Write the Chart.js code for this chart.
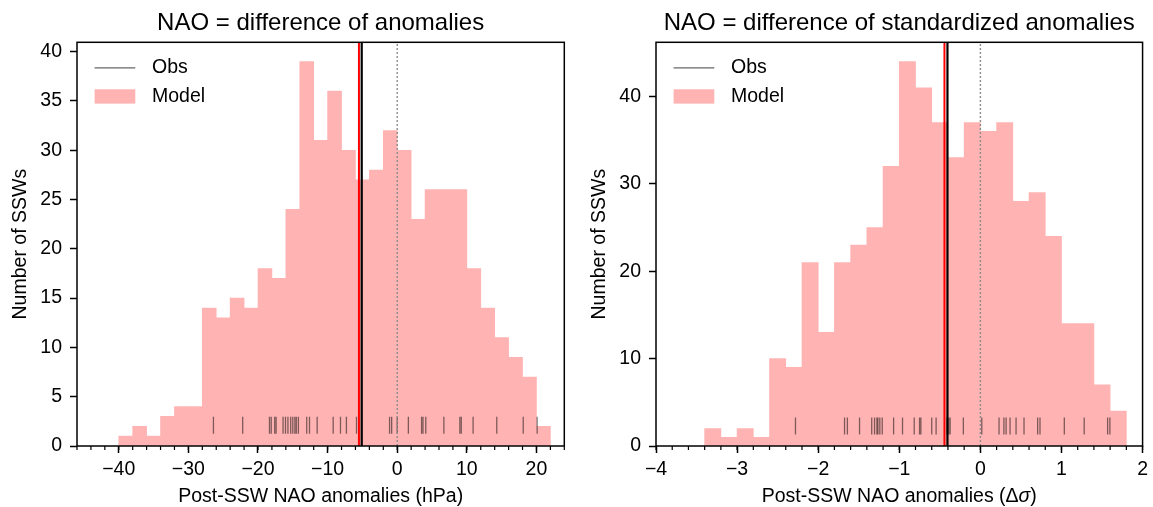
<!DOCTYPE html>
<html>
<head>
<meta charset="utf-8">
<script src="https://cdn.jsdelivr.net/npm/chart.js@4.4.0/dist/chart.umd.min.js"></script>
<style>
  html, body { margin: 0; padding: 0; background: #fff; overflow: hidden; }
  #wrap { position: relative; width: 1153px; height: 507px; }
  canvas { position: absolute; top: 0; }
</style>
</head>
<body>
<div id="wrap">
  <canvas id="leftChart" width="579" height="507" style="left:0px"></canvas>
  <canvas id="rightChart" width="574" height="507" style="left:579px"></canvas>
</div>
<script>
// ---- left panel: NAO = difference of anomalies (hPa) ----
const leftBinEdges = [-40,-38,-36,-34,-32,-30,-28,-26,-24,-22,-20,-18,-16,-14,-12,-10,-8,-6,-4,-2,0,2,4,6,8,10,12,14,16,18,20];
const leftBinWidth = 2;
const leftCounts = [1,2,1,3,4,4,14,13,15,14,18,17,24,39,31,36,30,27,28,32,30,23,26,26,26,18,14,11,9,7,2];
const leftObs = [-26.4,-22.2,-18.35,-18.1,-17.6,-17.4,-16.4,-16.05,-15.7,-15.3,-15.0,-14.7,-14.5,-14.2,-13.0,-12.6,-11.5,-9.2,-8.15,-7.3,-5.85,-1.1,-0.8,0.0,1.6,3.5,3.7,4.1,6.7,9.0,9.2,10.9,14.3,18.1,20.1];
const leftModelMean = -5.5;
const leftObsMean = -5.1;
const leftXTicks = [-40,-30,-20,-10,0,10,20];
const leftYTicks = [0,5,10,15,20,25,30,35,40];

// ---- right panel: NAO = difference of standardized anomalies ----
const rightBinEdges = [-3.4,-3.2,-3.0,-2.8,-2.6,-2.4,-2.2,-2.0,-1.8,-1.6,-1.4,-1.2,-1.0,-0.8,-0.6,-0.4,-0.2,0.0,0.2,0.4,0.6,0.8,1.0,1.2,1.4,1.6];
const rightBinWidth = 0.2;
const rightCounts = [2,1,2,1,10,9,21,13,21,23,25,32,44,41,37,33,37,36,37,28,29,24,14,14,7,4];
const rightObs = [-2.28,-1.675,-1.64,-1.49,-1.34,-1.305,-1.276,-1.264,-1.24,-1.21,-1.07,-0.96,-0.816,-0.75,-0.734,-0.60,-0.546,-0.41,-0.39,-0.373,-0.21,0.017,0.23,0.29,0.317,0.366,0.44,0.538,0.706,0.735,1.035,1.28,1.569,1.597];
const rightModelMean = -0.443;
const rightObsMean = -0.406;
const rightXTicks = [-4,-3,-2,-1,0,1,2];
const rightYTicks = [0,10,20,30,40];

const FONT = '"Liberation Sans", Arial, Helvetica, sans-serif';
const PINK = '#ffb3b3';

function fmt(v)
{
    return String(v).replace('-', '\u2212');
}

// frame, minor ticks, title, x label and legend
const extras = {
    id: 'extras',
    afterDraw(chart, args, opts) {
        const ctx = chart.ctx;
        const a = chart.chartArea;
        const x = chart.scales.x;
        ctx.save();

        ctx.strokeStyle = '#000';
        ctx.lineWidth = 1.2;
        ctx.beginPath();
        for (let v = opts.minorFrom; v <= opts.minorTo + 1e-9; v += opts.minorStep) {
            const px = x.getPixelForValue(v);
            ctx.moveTo(px, a.bottom);
            ctx.lineTo(px, a.bottom + 4);
        }
        ctx.stroke();

        ctx.lineWidth = 1.5;
        ctx.strokeRect(a.left, a.top, a.right - a.left, a.bottom - a.top);

        ctx.fillStyle = '#000';
        ctx.font = '24px ' + FONT;
        ctx.textAlign = 'center';
        ctx.textBaseline = 'alphabetic';
        ctx.fillText(opts.title, (a.left + a.right) / 2, 29.5);

        // x label, may have an italic part
        let total = 0;
        opts.xLabel.forEach(p => {
            ctx.font = (p.italic ? 'italic ' : '') + '19.5px ' + FONT;
            p.w = ctx.measureText(p.t).width;
            total += p.w;
        });
        let cx = (a.left + a.right) / 2 - total / 2;
        ctx.textAlign = 'left';
        opts.xLabel.forEach(p => {
            ctx.font = (p.italic ? 'italic ' : '') + '19.5px ' + FONT;
            ctx.fillText(p.t, cx, 501.5);
            cx += p.w;
        });

        // legend
        const lx = a.left + 17.6;
        ctx.strokeStyle = 'rgba(0,0,0,0.6)';
        ctx.lineWidth = 1.2;
        ctx.beginPath();
        ctx.moveTo(lx, a.top + 25.5);
        ctx.lineTo(lx + 40.7, a.top + 25.5);
        ctx.stroke();
        ctx.fillStyle = PINK;
        ctx.fillRect(lx, a.top + 47, 40.7, 14.3);
        ctx.fillStyle = '#000';
        ctx.font = '19.5px ' + FONT;
        ctx.textBaseline = 'middle';
        ctx.fillText('Obs', a.left + 75, a.top + 25);
        ctx.fillText('Model', a.left + 75, a.top + 54);

        ctx.restore();
    }
};

function makeChart(id, cfg)
{
    const vline = (v, color, width, dash) => ({
        type: 'line',
        data: [{x: v, y: 0}, {x: v, y: cfg.yMax}],
        borderColor: color,
        borderWidth: width,
        borderDash: dash || [],
        pointRadius: 0,
        fill: false
    });

    return new Chart(document.getElementById(id), {
        type: 'bar',
        data: {
            datasets: [
                vline(cfg.obsMean, '#000', 2.2),
                vline(cfg.modelMean, '#ff0000', 2),
                vline(0, '#8c8c8c', 1.4, [2, 2]),
                {
                    type: 'line',
                    showLine: false,
                    data: cfg.obs.map(v => ({x: v, y: cfg.rugY})),
                    pointStyle: 'line',
                    pointRotation: 90,
                    pointRadius: 8.5,
                    pointHoverRadius: 8.5,
                    pointBorderColor: 'rgba(0,0,0,0.5)',
                    pointBorderWidth: 1.3
                },
                {
                    type: 'bar',
                    data: cfg.edges.map((e, i) => ({x: e + cfg.binWidth / 2, y: cfg.counts[i]})),
                    backgroundColor: PINK,
                    borderWidth: 0,
                    barPercentage: 1,
                    categoryPercentage: 1
                }
            ]
        },
        options: {
            responsive: false,
            animation: false,
            layout: { padding: { top: 42.3, left: 0, right: cfg.padRight, bottom: 0 } },
            plugins: {
                legend: { display: false },
                tooltip: { enabled: false },
                extras: {
                    title: cfg.title,
                    xLabel: cfg.xLabel,
                    minorFrom: cfg.xMin,
                    minorTo: cfg.xMax,
                    minorStep: cfg.minorStep
                }
            },
            scales: {
                x: {
                    type: 'linear',
                    min: cfg.xMin,
                    max: cfg.xMax,
                    offset: false,
                    afterBuildTicks: s => { s.ticks = cfg.xTicks.map(v => ({value: v})); },
                    afterFit: s => { s.height = 61; },
                    grid: { offset: false, drawOnChartArea: false, tickLength: 7, tickColor: '#000', tickWidth: 1.5 },
                    border: { display: false },
                    ticks: { color: '#000', font: { family: FONT, size: 19.5 }, padding: 5, maxRotation: 0, autoSkip: false, callback: v => fmt(v) }
                },
                y: {
                    min: 0,
                    max: cfg.yMax,
                    afterBuildTicks: s => { s.ticks = cfg.yTicks.map(v => ({value: v})); },
                    afterFit: s => { s.width = 77; },
                    grid: { drawOnChartArea: false, tickLength: 7, tickColor: '#000', tickWidth: 1.5 },
                    border: { display: false },
                    ticks: { color: '#000', font: { family: FONT, size: 19.5 }, padding: 8, callback: v => fmt(v) },
                    title: { display: true, text: 'Number of SSWs', color: '#000', font: { family: FONT, size: 19.5 }, padding: { top: 9.4, bottom: 0 } }
                }
            }
        },
        plugins: [extras]
    });
}

makeChart('leftChart', {
    edges: leftBinEdges, binWidth: leftBinWidth, counts: leftCounts, obs: leftObs,
    modelMean: leftModelMean, obsMean: leftObsMean, rugY: 2.1,
    xMin: -46, xMax: 24, yMax: 40.95, minorStep: 2,
    xTicks: leftXTicks, yTicks: leftYTicks, padRight: 14.7,
    title: 'NAO = difference of anomalies',
    xLabel: [{t: 'Post-SSW NAO anomalies (hPa)'}]
});

makeChart('rightChart', {
    edges: rightBinEdges, binWidth: rightBinWidth, counts: rightCounts, obs: rightObs,
    modelMean: rightModelMean, obsMean: rightObsMean, rugY: 2.3,
    xMin: -4, xMax: 2, yMax: 46.2, minorStep: 0.2,
    xTicks: rightXTicks, yTicks: rightYTicks, padRight: 9.7,
    title: 'NAO = difference of standardized anomalies',
    xLabel: [{t: 'Post-SSW NAO anomalies (\u0394'}, {t: '\u03c3', italic: true}, {t: ')'}]
});
</script>
</body>
</html>
